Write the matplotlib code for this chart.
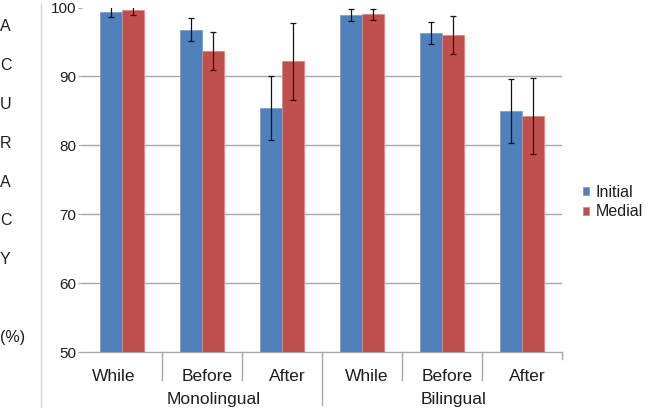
import matplotlib.pyplot as plt
import matplotlib.transforms as mtransforms
from matplotlib.lines import Line2D
import numpy as np

plt.rcParams['font.family'] = ['Liberation Sans', 'DejaVu Sans']

#--------------------------------------------#
                #DATA
#--------------------------------------------#

conditions = ["While", "Before", "After", "While", "Before", "After"]
groups = ["Monolingual", "Bilingual"]

initial = [99.4, 96.8, 85.4, 98.9, 96.3, 85.0]
initial_err = [0.75, 1.65, 4.6, 0.85, 1.65, 4.6]
medial = [99.6, 93.7, 92.2, 99.0, 96.0, 84.2]
medial_err = [0.7, 2.8, 5.6, 0.75, 2.8, 5.5]

blue = "#4f81bd"
red = "#c0504d"
grid_c = "#a8a8a8"
txt_c = "#1e1e1e"

#--------------------------------------------#

W, H = 648, 413
fig = plt.figure(figsize=(W/100, H/100), dpi=100)
ax = fig.add_axes([82/W, (H-352)/H, 480/W, 344.5/H])

x = np.arange(len(conditions))
w = 0.28

ax.bar(x - w/2, initial, w, color=blue, edgecolor="#7d9fd0", linewidth=0.6,
       yerr=initial_err, error_kw=dict(ecolor="#111111", elinewidth=0.9, capsize=2.5, capthick=0.9),
       label="Initial", zorder=3)
ax.bar(x + w/2, medial, w, color=red, edgecolor="#d88785", linewidth=0.6,
       yerr=medial_err, error_kw=dict(ecolor="#2a0a0a", elinewidth=0.9, capsize=2.5, capthick=0.9),
       label="Medial", zorder=3)

ax.set_xlim(-0.5, len(conditions) - 0.5)
ax.set_ylim(50, 100)
ax.set_yticks(range(50, 101, 10))
ax.yaxis.grid(True, color=grid_c, linewidth=1)
ax.yaxis.get_gridlines()[-1].set_visible(False)
ax.yaxis.get_gridlines()[0].set_visible(False)
ax.set_axisbelow(True)

for s in ["top", "right", "left"]:
    ax.spines[s].set_visible(False)
ax.spines["bottom"].set_color(grid_c)
ax.spines["bottom"].set_linewidth(1)

ax.set_xticks([])
ax.tick_params(axis="y", length=3, color=grid_c, labelsize=11, labelcolor=txt_c, pad=1)

# category dividers and labels under the axis
tr = mtransforms.blended_transform_factory(ax.transData, ax.transAxes)
for i in range(len(conditions)):
    depth = -0.154 if i == 2 else -0.081
    if i == len(conditions) - 1:
        depth = -0.02
    ax.add_line(Line2D([i + 0.5, i + 0.5], [0, depth], transform=tr, color=grid_c,
                       linewidth=1, clip_on=False))
    shift = -0.1 if i == 0 else 0.06
    ax.text(x[i] + shift, -0.07, conditions[i], transform=tr, ha="center", va="center",
            fontsize=12.5, color=txt_c)

for g, name in enumerate(groups):
    ax.text(g*3 + 1 + 0.14, -0.139, name, transform=tr, ha="center", va="center",
            fontsize=12.5, color=txt_c)

# vertical axis title, one letter per line
fig.text(0.0, 1 - 19/H, "A\nC\nU\nR\nA\nC\nY\n\n(%)", ha="left", va="top",
         fontsize=11.5, color=txt_c, linespacing=2.99)

fig.add_artist(Line2D([41/W, 41/W], [1 - 3/H, 1 - 407/H], color="#d6d6d6", linewidth=1))

fig.legend(loc="center left", bbox_to_anchor=(583/W, 1 - 202/H), frameon=False,
           fontsize=11.5, handlelength=0.4, handleheight=0.4, handletextpad=0.4,
           labelspacing=0.3, borderpad=0, borderaxespad=0, labelcolor=txt_c)

plt.savefig("out.png", dpi=100)
